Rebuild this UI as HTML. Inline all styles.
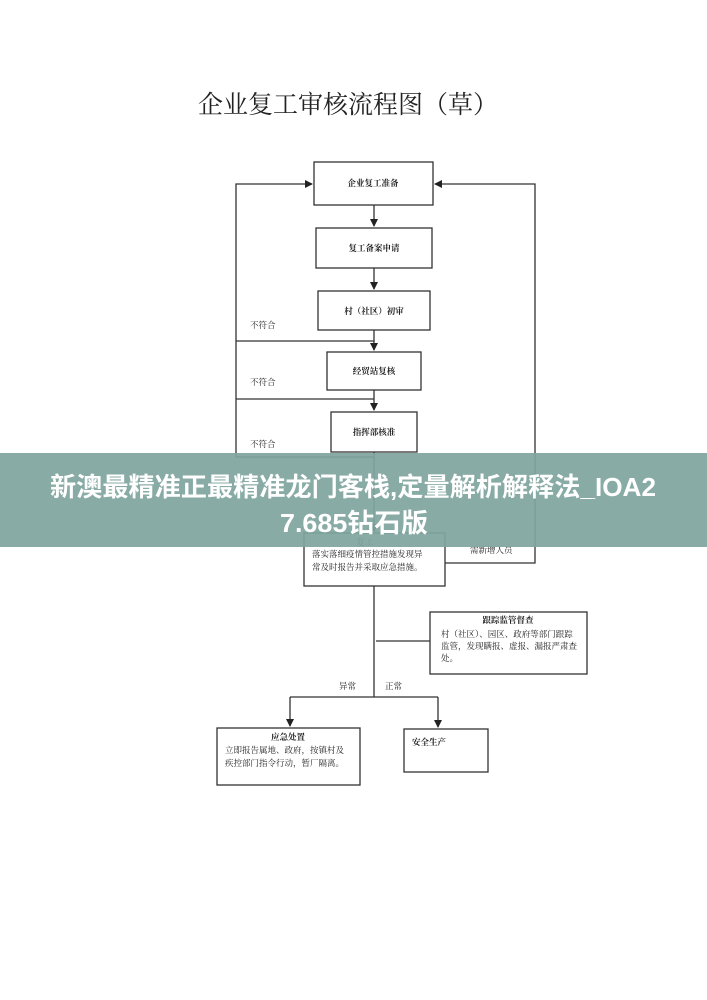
<!DOCTYPE html>
<html><head><meta charset="utf-8"><style>
html,body{margin:0;padding:0;background:#fff;width:707px;height:1000px;overflow:hidden}
svg{display:block}
.t{font-family:"Liberation Serif","Noto Serif CJK SC",serif;fill:#222}
</style></head><body>
<svg width="707" height="1000" viewBox="0 0 707 1000">
<defs><marker id="a" markerWidth="8" markerHeight="8" refX="7" refY="4" orient="auto" markerUnits="userSpaceOnUse"><path d="M0,0 L8,4 L0,8z" fill="#222"/></marker></defs>
<text class="t" x="198" y="113" font-size="25" textLength="300">企业复工审核流程图（草）</text>
<g fill="none" stroke="#333" stroke-width="1.3">
<rect x="314" y="162" width="119" height="43"/>
<rect x="316" y="228" width="116" height="40"/>
<rect x="318" y="291" width="112" height="39"/>
<rect x="327" y="352" width="94" height="38"/>
<rect x="331" y="412" width="86" height="40"/>
<rect x="304" y="533" width="141" height="53"/>
<rect x="430" y="612" width="157" height="62"/>
<rect x="217" y="728" width="143" height="57"/>
<rect x="404" y="729" width="84" height="43"/>
<path d="M374 205V226" marker-end="url(#a)"/>
<path d="M374 268V289" marker-end="url(#a)"/>
<path d="M374 330V350" marker-end="url(#a)"/>
<path d="M374 390V410" marker-end="url(#a)"/>
<path d="M374 452V531" marker-end="url(#a)"/>
<path d="M236 341H374M236 399H374M236 457H374"/>
<path d="M236 457V184H312" marker-end="url(#a)"/>
<path d="M445 563H535V184H435" marker-end="url(#a)"/>
<path d="M374 586V697M376 641H430M290 697H438"/>
<path d="M290 697V726" marker-end="url(#a)"/>
<path d="M438 697V727" marker-end="url(#a)"/>
</g>
<g class="t" font-size="8.5" font-weight="bold" text-anchor="middle">
<text x="373" y="186">企业复工准备</text>
<text x="374" y="251">复工备案申请</text>
<text x="374" y="314">村（社区）初审</text>
<text x="374" y="374">经贸站复核</text>
<text x="374" y="435">指挥部核准</text>
<text x="508" y="623">跟踪监管督查</text>
<text x="288" y="740">应急处置</text>
</g>
<g class="t" font-size="8.5" fill="#555">
<text x="250" y="328">不符合</text>
<text x="250" y="385">不符合</text>
<text x="250" y="447">不符合</text>
<text x="470" y="553">需新增人员</text>
<text x="339" y="689">异常</text>
<text x="385" y="689">正常</text>
<text x="365" y="545" text-anchor="middle">复工</text>
<text x="312" y="557">落实落细疫情管控措施发现异</text>
<text x="312" y="570">常及时报告并采取应急措施。</text>
<text x="441" y="637">村（社区）、园区、政府等部门跟踪</text>
<text x="441" y="649">监管，发现瞒报、虚报、漏报严肃查</text>
<text x="441" y="661">处。</text>
<text x="225" y="753">立即报告属地、政府，按镇村及</text>
<text x="225" y="766">疾控部门指令行动，暂厂隔离。</text>
<text x="412" y="745" font-weight="bold" fill="#222">安全生产</text>
</g>
<rect x="0" y="453" width="707" height="94" fill="#7fa59e" fill-opacity="0.93"/>
<g font-family="'Liberation Sans','Noto Sans CJK SC',sans-serif" font-size="26" font-weight="bold" fill="#fff">
<text x="50" y="496" textLength="606" lengthAdjust="spacingAndGlyphs">新澳最精准正最精准龙门客栈,定量解析解释法_IOA2</text>
<text x="280" y="532" textLength="148" lengthAdjust="spacingAndGlyphs">7.685钻石版</text>
</g>
</svg>
</body></html>
